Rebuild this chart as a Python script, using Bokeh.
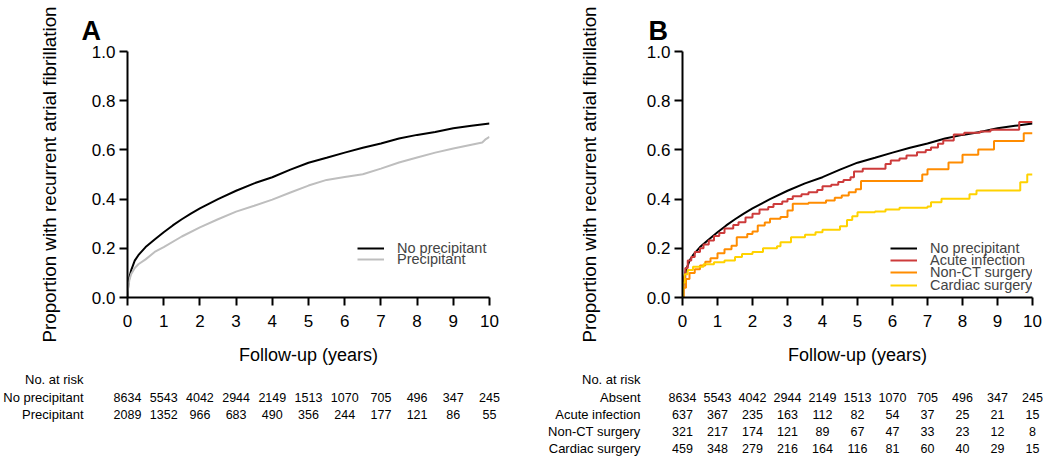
from bokeh.plotting import figure
from bokeh.models import Range1d, FixedTicker, PrintfTickFormatter, Legend, LegendItem
from bokeh.layouts import row, column
from bokeh.embed import file_html
from bokeh.resources import INLINE
from bokeh.core.properties import value

FONT = "Liberation Sans"

# ---------------- data ----------------
x_ticks = [0, 1, 2, 3, 4, 5, 6, 7, 8, 9, 10]
y_ticks = [0.0, 0.2, 0.4, 0.6, 0.8, 1.0]

# No precipitant (large group, smooth)
noprec_t = [0, 0.02, 0.05, 0.1, 0.2, 0.3, 0.5, 0.75, 1, 1.25, 1.5, 1.75, 2, 2.5, 3, 3.5, 4,
            4.5, 5, 5.5, 6, 6.5, 7, 7.5, 8, 8.5, 9, 9.5, 10]
noprec_v = [0, 0.05, 0.08, 0.11, 0.15, 0.172, 0.205, 0.236, 0.265, 0.293, 0.318, 0.341, 0.362,
            0.4, 0.434, 0.464, 0.489, 0.52, 0.548, 0.568, 0.589, 0.609, 0.626, 0.646, 0.661,
            0.673, 0.688, 0.698, 0.707]

# Precipitant (all)
prec_t = [0, 0.02, 0.05, 0.1, 0.2, 0.3, 0.5, 0.75, 1, 1.5, 2, 2.5, 3, 3.5, 4, 4.5, 5,
          5.5, 6, 6.5, 7, 7.5, 8, 8.5, 9, 9.5, 9.8, 9.9, 10]
prec_v = [0, 0.04, 0.07, 0.095, 0.12, 0.135, 0.155, 0.185, 0.205, 0.248, 0.285, 0.318, 0.349,
          0.373, 0.398, 0.427, 0.455, 0.478, 0.49, 0.501, 0.524, 0.549, 0.569, 0.589, 0.606,
          0.621, 0.63, 0.644, 0.653]

# Acute infection (step)
inf_t = [0, 0.03, 0.08, 0.15, 0.25, 0.35, 0.5, 0.6, 0.75, 0.9, 1.05, 1.2, 1.45, 1.6, 1.8, 2.0,
         2.2, 2.45, 2.6, 2.85, 3.0, 3.15, 3.4, 3.6, 3.85, 4.0, 4.25, 4.45, 4.6, 4.8, 4.9, 5.15,
         5.8, 5.95, 6.2, 6.4, 6.7, 6.95, 7.1, 7.3, 7.45, 7.75, 8.05, 8.5, 8.8, 9.62, 10.0]
inf_v = [0, 0.08, 0.12, 0.15, 0.165, 0.185, 0.2, 0.215, 0.232, 0.25, 0.262, 0.28, 0.295, 0.306,
         0.325, 0.34, 0.358, 0.368, 0.38, 0.39, 0.4, 0.412, 0.42, 0.428, 0.437, 0.452,
         0.458, 0.47, 0.478, 0.489, 0.512, 0.523, 0.543, 0.557, 0.565, 0.577, 0.59, 0.6, 0.61,
         0.625, 0.638, 0.663, 0.67, 0.675, 0.682, 0.713, 0.713]

# Non-CT surgery (step)
nct_t = [0, 0.03, 0.1, 0.2, 0.35, 0.5, 0.65, 0.8, 1.0, 1.2, 1.4, 1.55, 1.85, 2.0, 2.15, 2.35,
         2.5, 2.8, 3.0, 3.15, 3.6, 4.1, 4.35, 4.55, 4.75, 4.95, 5.1, 6.85, 7.0, 7.6, 8.0, 8.45,
         8.9, 9.75, 10.0]
nct_v = [0, 0.04, 0.075, 0.1, 0.115, 0.13, 0.145, 0.16, 0.18, 0.196, 0.21, 0.245, 0.258, 0.268,
         0.293, 0.305, 0.32, 0.327, 0.354, 0.381, 0.385, 0.394, 0.405, 0.415, 0.428, 0.44, 0.474,
         0.5, 0.521, 0.549, 0.58, 0.602, 0.636, 0.668, 0.668]

# Cardiac surgery (step)
card_t = [0, 0.02, 0.06, 0.15, 0.3, 0.6, 0.9, 1.2, 1.5, 1.7, 2.0, 2.3, 2.7, 2.8, 3.1, 3.5, 3.8,
          4.0, 4.5, 4.7, 4.85, 5.0, 5.5, 5.8, 6.2, 7.0, 7.1, 7.4, 8.2, 8.4, 9.65, 9.85, 10.0]
card_v = [0, 0.06, 0.095, 0.112, 0.125, 0.135, 0.143, 0.15, 0.165, 0.177, 0.185, 0.2, 0.208,
          0.225, 0.245, 0.255, 0.265, 0.275, 0.29, 0.315, 0.33, 0.347, 0.35, 0.358, 0.365, 0.37,
          0.387, 0.401, 0.42, 0.435, 0.469, 0.5, 0.5]

risk_times = [0, 1, 2, 3, 4, 5, 6, 7, 8, 9, 10]
risk_noprec = [8634, 5543, 4042, 2944, 2149, 1513, 1070, 705, 496, 347, 245]
risk_prec = [2089, 1352, 966, 683, 490, 356, 244, 177, 121, 86, 55]
risk_inf = [637, 367, 235, 163, 112, 82, 54, 37, 25, 21, 15]
risk_nct = [321, 217, 174, 121, 89, 67, 47, 33, 23, 12, 8]
risk_card = [459, 348, 279, 216, 164, 116, 81, 60, 40, 29, 15]

names_A = ["No precipitant", "Precipitant"]
names_B = ["No precipitant", "Acute infection", "Non-CT surgery", "Cardiac surgery"]
risk_labels_A = ["No precipitant", "Precipitant"]
risk_labels_B = ["Absent", "Acute infection", "Non-CT surgery", "Cardiac surgery"]

# ---------------- styles / layout ----------------
BLACK = "#000000"
GREY = "#bebebe"
RED = "#cd3b3b"
ORANGE = "#ff8c00"
GOLD = "#ffd200"

TOP_H = 368
TAB_H = 93
ROW_Y = [11, 28.5, 45.8, 63, 80.3]


def make_top(letter, width, left, right, ylab_standoff, series, legend_x, legend_ys,
             letter_off):
    p = figure(width=width, height=TOP_H, x_range=Range1d(0, 10), y_range=Range1d(0, 1),
               output_backend="svg", toolbar_location=None,
               min_border_left=left, min_border_right=right,
               min_border_top=51, min_border_bottom=71)
    p.outline_line_color = None
    p.grid.visible = False
    p.background_fill_color = None
    p.border_fill_color = None

    p.title.text = letter
    p.title.align = "left"
    p.title.offset = letter_off
    p.title.text_font = FONT
    p.title.text_font_size = "27px"
    p.title.text_font_style = "bold"
    p.title.text_color = "black"
    p.title.standoff = 11

    p.xaxis.ticker = FixedTicker(ticks=x_ticks)
    p.yaxis.ticker = FixedTicker(ticks=y_ticks)
    p.yaxis.formatter = PrintfTickFormatter(format="%.1f")
    for ax in (p.xaxis, p.yaxis):
        ax.axis_line_width = 2
        ax.major_tick_line_width = 2
        ax.major_tick_out = 8
        ax.major_tick_in = 0
        ax.minor_tick_line_color = None
        ax.major_label_text_font = FONT
        ax.major_label_text_font_size = "17px"
        ax.major_label_text_color = "black"
        ax.axis_label_text_font = FONT
        ax.axis_label_text_font_style = "normal"
        ax.axis_label_text_color = "black"
    p.xaxis.axis_label_text_font_size = "18px"
    p.yaxis.axis_label_text_font_size = "18.8px"
    p.xaxis.axis_label = "Follow-up (years)"
    p.yaxis.axis_label = "Proportion with recurrent atrial fibrillation"
    p.xaxis.major_label_standoff = 9
    p.xaxis.axis_label_standoff = 15
    p.yaxis.major_label_standoff = 4
    p.yaxis.axis_label_standoff = ylab_standoff

    for (name, t, v, color, kind), ly in zip(series, legend_ys):
        if kind == "line":
            r = p.line(t, v, line_color=color, line_width=2)
        else:
            r = p.step(t, v, mode="after", line_color=color, line_width=2)
        leg = Legend(items=[LegendItem(label=name, renderers=[r])], location=(legend_x, ly),
                     background_fill_alpha=0, border_line_color=None, padding=0, margin=0,
                     spacing=0, glyph_width=27, glyph_height=12, label_height=12,
                     label_standoff=13, label_text_font=FONT, label_text_font_size="14.5px",
                     label_text_line_height=1.0)
        p.add_layout(leg)
    return p


def make_table(width, left, right, risk_rows, label_right_px):
    per = (width - left - right) / 10.0
    tb = figure(width=width, height=TAB_H,
                x_range=Range1d(-left / per, 10 + right / per),
                y_range=Range1d(TAB_H, 0),
                output_backend="svg", toolbar_location=None,
                x_axis_location=None, y_axis_location=None, min_border=0)
    tb.outline_line_color = None
    tb.grid.visible = False
    tb.background_fill_color = None
    tb.border_fill_color = None
    label_x = (label_right_px - left) / per
    labels = ["No. at risk"] + [r[0] for r in risk_rows]
    tb.text(x=[label_x] * len(labels), y=ROW_Y[:len(labels)], text=labels,
            text_font=value(FONT), text_font_size="13px", text_align="right",
            text_baseline="middle", text_color="black")
    for i, (_, counts) in enumerate(risk_rows):
        tb.text(x=risk_times, y=[ROW_Y[i + 1]] * len(risk_times),
                text=[str(c) for c in counts], text_font=value(FONT),
                text_font_size="12.5px", text_align="center", text_baseline="middle",
                text_color="black")
    return tb


top_a = make_top(
    "A", 530, 127, 41, 29,
    [(names_A[0], noprec_t, noprec_v, BLACK, "line"),
     (names_A[1], prec_t, prec_v, GREY, "line")],
    230, [41, 30], -46)

top_b = make_top(
    "B", 520, 152, 18, 44,
    [(names_B[0], noprec_t, noprec_v, BLACK, "line"),
     (names_B[1], inf_t, inf_v, RED, "step"),
     (names_B[2], nct_t, nct_v, ORANGE, "step"),
     (names_B[3], card_t, card_v, GOLD, "step")],
    208, [41, 29, 17, 4], -34)

tab_a = make_table(530, 127, 41,
                   [(risk_labels_A[0], risk_noprec), (risk_labels_A[1], risk_prec)], 83)
tab_b = make_table(520, 152, 18,
                   [(risk_labels_B[0], risk_noprec), (risk_labels_B[1], risk_inf),
                    (risk_labels_B[2], risk_nct), (risk_labels_B[3], risk_card)], 110)

layout = column(row(top_a, top_b, spacing=0), row(tab_a, tab_b, spacing=0), spacing=0)

with open("out.html", "w") as f:
    f.write(file_html(layout, INLINE))
